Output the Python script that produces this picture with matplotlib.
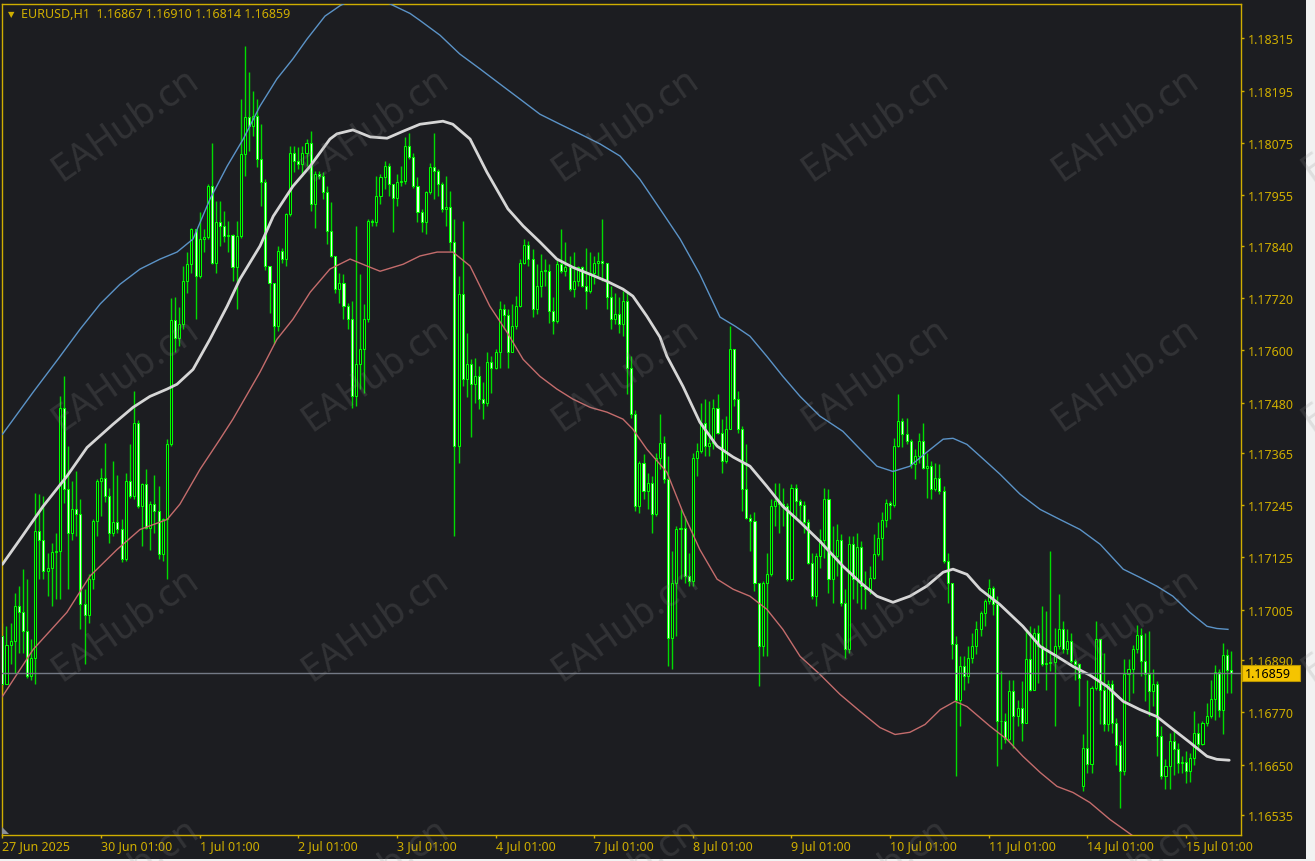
import numpy as np
import matplotlib.pyplot as plt
from matplotlib.patches import Rectangle, Polygon
from matplotlib.transforms import blended_transform_factory

W, H = 1315, 862
BG = '#1c1d21'
GOLD = '#cfae00'

plt.rcParams['font.family'] = ['Noto Sans', 'DejaVu Sans']

# prices are kept in points above 1.16000 (1 point = 0.00001)
BASE = 1.16
PT = 1e-5

symbol = 'EURUSD,H1'
first_open = 945
gap_open = {263: 601}   # Monday 14 Jul opened with a gap

close_pts = [
    834, 925, 933, 1014, 1000, 956, 853, 895, 1185, 1166, 1094, 1100, 1137, 1140, 1468, 1281, 1182, 1235, 1224, 1017, 994, 1075, 1208, 1300,
    1308, 1266, 1182, 1205, 1190, 1121, 1300, 1266, 1434, 1243, 1293, 1193, 1247, 1231, 1132, 1212, 1384, 1670, 1629, 1660, 1759, 1797, 1878, 1770,
    1856, 1860, 1977, 1801, 1893, 1885, 1862, 1864, 1790, 1862, 2049, 2134, 2114, 2137, 2038, 1985, 1793, 1755, 1656, 1828, 1809, 1912, 2053, 2034,
    2027, 2053, 2076, 1935, 2004, 2000, 1962, 1874, 1816, 1740, 1755, 1702, 1671, 1495, 1568, 1602, 1672, 1897, 1893, 1954, 1996, 2023, 1981, 1950,
    1985, 1989, 2069, 2042, 1977, 1916, 1893, 1962, 2019, 2011, 1981, 1924, 1929, 1847, 1381, 1729, 1534, 1568, 1522, 1541, 1488, 1480, 1572, 1560,
    1595, 1694, 1680, 1595, 1656, 1702, 1801, 1841, 1809, 1695, 1748, 1782, 1782, 1690, 1667, 1797, 1782, 1790, 1740, 1759, 1790, 1748, 1736, 1778,
    1799, 1805, 1800, 1721, 1671, 1683, 1660, 1713, 1560, 1453, 1243, 1342, 1277, 1296, 1224, 1354, 1388, 1304, 941, 1067, 1189, 1192, 1082, 1071,
    1354, 1369, 1434, 1380, 1388, 1468, 1411, 1346, 1419, 1602, 1488, 1419, 1281, 1216, 1209, 1067, 922, 1067, 1086, 1243, 1254, 1247, 1243, 1075,
    1285, 1254, 1245, 1205, 1113, 1036, 1128, 1166, 1258, 1075, 1128, 1166, 1021, 914, 1155, 1075, 1148, 1059, 1052, 1078, 1132, 1170, 1210, 1250,
    1245, 1380, 1438, 1407, 1392, 1338, 1357, 1392, 1331, 1334, 1281, 1308, 1277, 1117, 1067, 926, 799, 876, 853, 895, 922, 960, 998, 1025,
    1055, 1017, 750, 750, 708, 818, 761, 780, 746, 891, 822, 952, 922, 880, 883, 886, 922, 960, 914, 933, 887, 880, 849, 688,
    651, 826, 937, 822, 742, 834, 746, 696, 635, 857, 870, 914, 948, 887, 857, 818, 834, 715, 624, 647, 703, 685, 654, 657,
    635, 666, 723, 698, 746, 761, 800, 862, 776, 902, 867, 859,
]
high_pts = [
    975, 968, 975, 1044, 1059, 1098, 1075, 937, 1273, 1270, 1266, 1136, 1159, 1182, 1495, 1541, 1380, 1300, 1323, 1258, 1052, 1086, 1212, 1305,
    1331, 1388, 1285, 1346, 1315, 1212, 1319, 1384, 1507, 1440, 1296, 1327, 1254, 1315, 1289, 1216, 1396, 1720, 1721, 1700, 1793, 1824, 1881, 1855,
    1916, 1878, 1981, 2076, 1942, 1942, 1920, 1897, 1866, 1897, 2176, 2298, 2237, 2195, 2176, 2118, 1992, 1793, 1755, 1839, 1835, 1915, 2069, 2069,
    2065, 2069, 2084, 2103, 2011, 2011, 2008, 1977, 1939, 1816, 1778, 1774, 1709, 1713, 1885, 1774, 1705, 1900, 1901, 2000, 2004, 2034, 2030, 1981,
    2004, 2023, 2088, 2099, 2053, 1996, 1924, 1966, 2030, 2099, 2015, 1985, 2000, 1966, 1901, 1771, 1897, 1640, 1579, 1583, 1564, 1526, 1595, 1587,
    1602, 1713, 1705, 1694, 1705, 1725, 1809, 1855, 1851, 1832, 1797, 1820, 1809, 1797, 1721, 1809, 1877, 1847, 1816, 1824, 1793, 1793, 1835, 1824,
    1816, 1824, 1900, 1793, 1748, 1732, 1721, 1736, 1736, 1587, 1464, 1346, 1361, 1319, 1311, 1365, 1453, 1403, 1357, 1140, 1197, 1235, 1220, 1136,
    1365, 1388, 1480, 1488, 1484, 1488, 1499, 1442, 1449, 1656, 1602, 1507, 1426, 1384, 1224, 1228, 1059, 1071, 1136, 1258, 1296, 1296, 1285, 1250,
    1293, 1293, 1258, 1254, 1212, 1136, 1136, 1189, 1285, 1281, 1197, 1201, 1178, 1052, 1174, 1174, 1182, 1162, 1094, 1105, 1178, 1205, 1228, 1258,
    1254, 1399, 1499, 1445, 1445, 1396, 1373, 1411, 1434, 1365, 1346, 1342, 1338, 1289, 1136, 1067, 945, 899, 899, 922, 952, 979, 1002, 1029,
    1075, 1060, 1036, 864, 769, 845, 845, 799, 841, 956, 968, 964, 971, 1013, 1002, 1140, 964, 1040, 979, 960, 952, 891, 883, 719,
    845, 830, 979, 937, 906, 845, 845, 757, 704, 891, 891, 925, 971, 964, 952, 956, 868, 841, 738, 662, 723, 727, 700, 669,
    681, 677, 772, 746, 750, 792, 845, 879, 870, 929, 914, 910,
]
low_pts = [
    815, 834, 880, 861, 906, 906, 849, 845, 834, 1075, 1075, 1036, 1013, 1029, 1029, 1250, 1052, 1166, 1174, 960, 880, 975, 1052, 1174,
    1220, 1251, 1159, 1174, 1182, 1115, 1117, 1262, 1258, 1238, 1151, 1189, 1143, 1182, 1121, 1117, 1075, 1380, 1595, 1610, 1648, 1732, 1778, 1671,
    1765, 1824, 1855, 1797, 1778, 1839, 1847, 1824, 1759, 1694, 1858, 2000, 2057, 2091, 2019, 1931, 1785, 1686, 1614, 1645, 1801, 1793, 1908, 2008,
    2015, 2000, 2023, 1920, 1881, 1992, 1946, 1843, 1813, 1732, 1709, 1671, 1648, 1468, 1472, 1511, 1503, 1664, 1885, 1885, 1935, 1969, 1954, 1870,
    1931, 1977, 1981, 2038, 1972, 1893, 1870, 1866, 1958, 1946, 1954, 1916, 1885, 1828, 1174, 1342, 1518, 1492, 1400, 1480, 1465, 1442, 1472, 1503,
    1556, 1560, 1648, 1560, 1595, 1648, 1698, 1797, 1793, 1675, 1683, 1721, 1748, 1663, 1637, 1663, 1778, 1771, 1736, 1721, 1748, 1744, 1694, 1732,
    1751, 1771, 1759, 1694, 1648, 1660, 1640, 1633, 1499, 1445, 1231, 1227, 1258, 1235, 1182, 1220, 1327, 1296, 876, 868, 945, 1075, 1067, 1059,
    1059, 1312, 1365, 1358, 1358, 1373, 1407, 1319, 1342, 1419, 1472, 1411, 1231, 1212, 1140, 1048, 830, 899, 899, 1082, 1197, 1182, 1197, 1070,
    1070, 1212, 1205, 1182, 1109, 1029, 1013, 1100, 1124, 1044, 1021, 1082, 1013, 895, 905, 1029, 1021, 1006, 1006, 1040, 1075, 1128, 1120, 1195,
    1212, 1240, 1377, 1377, 1385, 1331, 1304, 1342, 1327, 1262, 1258, 1277, 1270, 1113, 1021, 891, 623, 738, 822, 837, 883, 903, 945, 968,
    1017, 994, 646, 685, 700, 704, 689, 738, 704, 765, 818, 822, 837, 876, 822, 864, 738, 914, 906, 903, 883, 845, 784, 589,
    631, 631, 822, 742, 727, 727, 723, 650, 550, 625, 795, 815, 906, 853, 795, 761, 784, 669, 616, 593, 593, 627, 631, 631,
    608, 610, 650, 685, 696, 738, 757, 753, 760, 719, 815, 814,
]

# envelope indicator (bar index, points)
mid_idx = [0, 4.8, 9.9, 15.7, 20.6, 26.9, 31.8, 35.9, 40.1, 42.5, 46.4, 50.5, 54.7, 57.8, 62.7,
           65.9, 70.7, 74.9, 79.7, 81.4, 85.3, 89.5, 93.6, 97.5, 101.6, 107.2, 109.6, 113.8, 117.9, 123.0,
           126.7, 130.8, 134.9, 138.8, 143.0, 147.1, 151.0, 153.4, 156.8, 160.0, 161.7, 165.6, 169.7, 173.9, 177.8,
           181.9, 186.0, 189.9, 194.1, 198.9, 204.5, 208.7, 212.8, 216.7, 220.8, 224.9, 228.9, 231.3, 234.7, 237.9,
           242.7, 248.3, 252.5, 256.6, 260.5, 264.6, 268.8, 272.7, 276.8, 280.9, 284.8, 288.9, 293.1, 295.5, 298.5]
mid_pts = [1109, 1173, 1242, 1311, 1377, 1430, 1469, 1494, 1511, 1522, 1556, 1625, 1701, 1763, 1839,
           1907, 1976, 2022, 2084, 2096, 2105, 2089, 2086, 2102, 2118, 2125, 2118, 2084, 2008, 1924,
           1885, 1848, 1809, 1790, 1774, 1758, 1740, 1724, 1678, 1630, 1586, 1517, 1435, 1380, 1355,
           1334, 1288, 1242, 1206, 1162, 1105, 1068, 1036, 1022, 1036, 1059, 1091, 1098, 1086, 1052,
           1017, 967, 921, 898, 875, 855, 829, 795, 776, 760, 731, 701, 669, 662, 660]

up_idx = [0, 7.5, 13.5, 18.9, 23.8, 28.6, 33.5, 38.4, 42.5, 46.4, 50.5, 54.7, 58.6, 62.7, 66.8,
          70.7, 74.1, 78.5, 82.2, 88.2, 94.3, 99.2, 101.6, 106.5, 111.3, 116.2, 121.1, 125.9, 130.8, 135.7,
          140.5, 145.4, 150.3, 155.1, 160.0, 164.9, 169.7, 174.6, 178.3, 181.9, 186.0, 189.9, 194.1, 198.9, 204.5,
          208.7, 212.8, 216.7, 220.8, 224.9, 228.9, 231.3, 234.7, 237.9, 242.7, 247.6, 252.5, 257.3, 262.2, 267.1,
          272.7, 276.8, 280.9, 284.8, 288.9, 293.1, 295.5, 298.2]
up_pts = [1407, 1504, 1579, 1648, 1706, 1751, 1786, 1809, 1825, 1855, 1946, 2022, 2084, 2160, 2222,
          2268, 2313, 2366, 2390, 2418, 2394, 2372, 2356, 2322, 2279, 2245, 2210, 2176, 2141, 2118,
          2096, 2073, 2045, 1992, 1924, 1855, 1774, 1676, 1655, 1632, 1586, 1540, 1494, 1449, 1414,
          1373, 1334, 1322, 1334, 1366, 1396, 1398, 1384, 1357, 1316, 1270, 1235, 1212, 1189, 1155,
          1098, 1079, 1059, 1036, 999, 967, 962, 960]

lo_idx = [0, 7.5, 15.7, 21.3, 27.9, 33.5, 40.1, 43.2, 48.1, 52.95, 56.1, 62.7, 66.8, 70.7, 74.9,
          79.7, 84.6, 88.2, 91.9, 97.5, 101.6, 105.8, 109.6, 113.8, 118.6, 122.8, 126.7, 130.8, 134.9, 138.8,
          143.0, 147.1, 151.0, 153.4, 156.8, 161.7, 165.6, 169.7, 173.9, 177.8, 181.9, 186.0, 189.9, 194.1, 198.9,
          203.8, 208.7, 213.5, 217.2, 220.8, 224.5, 228.2, 231.8, 234.7, 240.3, 244.4, 248.3, 252.5, 256.6, 260.5,
          264.6, 269.5, 275.6, 287.0, 298.5]
lo_pts = [806, 914, 999, 1082, 1143, 1189, 1212, 1247, 1327, 1396, 1442, 1550, 1625, 1671, 1733,
          1786, 1809, 1795, 1781, 1797, 1816, 1825, 1825, 1793, 1701, 1641, 1579, 1540, 1511, 1488,
          1469, 1458, 1442, 1419, 1373, 1320, 1228, 1143, 1075, 1052, 1036, 1006, 960, 898, 857,
          811, 772, 735, 719, 724, 742, 776, 795, 783, 738, 708, 669, 632, 600, 586,
          563, 524, 483, 400, 360]

price_ticks = [1.18315, 1.18195, 1.18075, 1.17955, 1.17840, 1.17720, 1.17600, 1.17480,
               1.17365, 1.17245, 1.17125, 1.17005, 1.16890, 1.16770, 1.16650, 1.16535]
date_idx = [0, 24, 48, 72, 96, 120, 144, 168, 192, 216, 240, 264, 288]
date_labels = ['27 Jun 2025', '30 Jun 01:00', '1 Jul 01:00', '2 Jul 01:00', '3 Jul 01:00',
               '4 Jul 01:00', '7 Jul 01:00', '8 Jul 01:00', '9 Jul 01:00', '10 Jul 01:00',
               '11 Jul 01:00', '14 Jul 01:00', '15 Jul 01:00']

# ---- build OHLC
c = np.array(close_pts, dtype=float)
o = np.concatenate([[first_open], c[:-1]])
for k, v in gap_open.items():
    o[k] = v
hi = np.maximum(np.array(high_pts, dtype=float), np.maximum(o, c))
lo = np.minimum(np.array(low_pts, dtype=float), np.minimum(o, c))
idx = np.arange(len(c))

to_px = lambda a: BASE + np.asarray(a, dtype=float) * PT

fig = plt.figure(figsize=(W / 100, H / 100), dpi=100, facecolor=BG)
ax = fig.add_axes([1.5 / W, (H - 835.5) / H, (1241 - 1.5) / W, (835.5 - 5.3) / H], facecolor=BG)

ax.vlines(idx, to_px(lo), to_px(hi), color='#00dc00', lw=1.0, zorder=2)
bull = c >= o
body_lo = np.minimum(o, c)
body_h = np.maximum(np.abs(c - o), 0.8)
ax.bar(idx[bull], body_h[bull] * PT, bottom=to_px(body_lo[bull]), width=0.5,
       facecolor='#0f1a10', edgecolor='#00ff00', lw=0.75, zorder=3)
ax.bar(idx[~bull], body_h[~bull] * PT, bottom=to_px(body_lo[~bull]), width=0.5,
       facecolor='#eaffea', edgecolor='#00ff00', lw=0.75, zorder=3)

ax.plot(up_idx, to_px(up_pts), color='#5b93c7', lw=1.0, zorder=4, solid_joinstyle='round')
ax.plot(lo_idx, to_px(lo_pts), color='#c46c6c', lw=1.0, zorder=4, solid_joinstyle='round')
ax.plot(mid_idx, to_px(mid_pts), color='#d6d6d6', lw=2.0, zorder=4,
        solid_capstyle='round', solid_joinstyle='round')

last = to_px(c[-1])
ax.axhline(last, color='#737985', lw=1.0, zorder=5)

ax.set_xlim(-0.21, 301.37)
ax.set_ylim(BASE + 489.7 * PT, BASE + 2393 * PT)

ax.yaxis.tick_right()
ax.set_yticks(price_ticks)
ax.set_yticklabels([f'{p:.5f}' for p in price_ticks])
ax.set_xticks(date_idx)
ax.set_xticklabels(date_labels, ha='left')
ax.tick_params(axis='both', colors=GOLD, labelcolor=GOLD, labelsize=9, length=2.2, width=1, direction='out')
ax.tick_params(axis='y', pad=3)
ax.tick_params(axis='x', pad=1)
for s in ax.spines.values():
    s.set_color(GOLD)
    s.set_linewidth(1)

# current price label
tr = blended_transform_factory(ax.transAxes, ax.transData)
ax.add_patch(Rectangle((1.0008, last - 8 * 2.294 * PT), 58 / 1239.5, 16 * 2.294 * PT, transform=tr,
                       facecolor='#f5c400', edgecolor='#b89400', lw=0.8, clip_on=False, zorder=6))
ax.text(1.0035, last, f'{last:.5f}', transform=tr, color='#000000', fontsize=9,
        va='center', ha='left', zorder=7, clip_on=False)

# header
fig.text(8 / W, 1 - 15 / H, '▼', color=GOLD, fontsize=6, va='center', ha='left', family='DejaVu Sans')
fig.text(21 / W, 1 - 15 / H,
         f'{symbol}  {to_px(o[-1]):.5f} {to_px(hi[-1]):.5f} {to_px(lo[-1]):.5f} {to_px(c[-1]):.5f}',
         color=GOLD, fontsize=9, va='center', ha='left')

# chart shift marker
fig.patches.append(Polygon([[2 / W, 1 - 828 / H], [2 / W, 1 - 835 / H], [9 / W, 1 - 835 / H]],
                           closed=True, transform=fig.transFigure, facecolor='#8a8f98', edgecolor='none'))

# window edge
fig.patches.append(Rectangle((1306 / W, 0), 9 / W, 1, transform=fig.transFigure, facecolor='#f2f2f2', edgecolor='none'))
fig.patches.append(Rectangle((0, 0), 1, 2 / H, transform=fig.transFigure, facecolor='#f2f2f2', edgecolor='none'))

# watermark
for cy in [125, 375, 625, 875]:
    for cx in [125, 375, 625, 875, 1125, 1375]:
        fig.text(cx / W, 1 - cy / H, 'EAHub.cn', rotation=35, fontsize=27, fontweight='bold',
                 color='#8c8c8c', alpha=0.2, ha='center', va='center', rotation_mode='anchor', zorder=10)

fig.savefig('out.png', dpi=100, facecolor=fig.get_facecolor())
